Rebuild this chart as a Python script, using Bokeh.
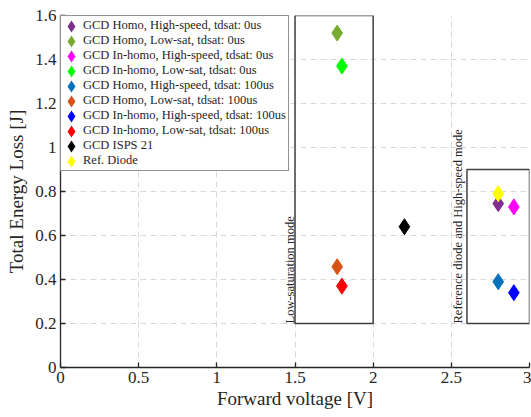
import math
from bokeh.plotting import figure
from bokeh.models import FixedTicker, CustomJSTickFormatter, ColumnDataSource, Legend, LegendItem
from bokeh.core.properties import value
from bokeh.embed import file_html
from bokeh.resources import INLINE

# ---- data ----
series_names = [
    "GCD Homo, High-speed, tdsat: 0us",
    "GCD Homo, Low-sat, tdsat: 0us",
    "GCD In-homo, High-speed, tdsat: 0us",
    "GCD In-homo, Low-sat, tdsat: 0us",
    "GCD Homo, High-speed, tdsat: 100us",
    "GCD Homo, Low-sat, tdsat: 100us",
    "GCD In-homo, High-speed, tdsat: 100us",
    "GCD In-homo, Low-sat, tdsat: 100us",
    "GCD ISPS 21",
    "Ref. Diode",
]
forward_voltage = [2.80, 1.77, 2.90, 1.80, 2.80, 1.77, 2.90, 1.80, 2.20, 2.80]
energy_loss = [0.745, 1.52, 0.73, 1.37, 0.39, 0.458, 0.34, 0.37, 0.64, 0.79]
series_colors = ["#7E2F8E", "#77AC30", "#FF00FF", "#00FF00", "#0072BD",
                 "#D95319", "#0000FF", "#FF0000", "#000000", "#FFFF00"]

region_left = [1.5, 2.6]
region_right = [2.0, 3.0]
region_bottom = [0.2, 0.2]
region_top = [1.6, 0.9]
region_labels = ["Low-saturation mode", "Reference diode and High-speed mode"]

x_ticks = [0, 0.5, 1, 1.5, 2, 2.5, 3]
x_tick_labels = ["0", "0.5", "1", "1.5", "2", "2.5", "3"]
y_ticks = [0, 0.2, 0.4, 0.6, 0.8, 1.0, 1.2, 1.4, 1.6]
y_tick_labels = ["0", "0.2", "0.4", "0.6", "0.8", "1", "1.2", "1.4", "1.6"]

FONT = "Liberation Serif"
TXT = "#262626"

p = figure(width=531, height=417, x_range=(0, 3), y_range=(0, 1.6),
           output_backend="svg", toolbar_location=None,
           min_border_left=60, min_border_right=2, min_border_top=15, min_border_bottom=50)
p.outline_line_color = None
p.background_fill_color = "white"
p.border_fill_color = "white"

fmt_code = """
const i = tvals.findIndex(t => Math.abs(t - tick) < 1e-9);
return i >= 0 ? tlabs[i] : String(tick);
"""
p.xaxis.ticker = FixedTicker(ticks=x_ticks)
p.yaxis.ticker = FixedTicker(ticks=y_ticks)
p.xaxis.formatter = CustomJSTickFormatter(args=dict(tvals=x_ticks, tlabs=x_tick_labels), code=fmt_code)
p.yaxis.formatter = CustomJSTickFormatter(args=dict(tvals=y_ticks, tlabs=y_tick_labels), code=fmt_code)

p.xaxis.axis_label = "Forward voltage [V]"
p.yaxis.axis_label = "Total Energy Loss [J]"
for ax in (p.xaxis, p.yaxis):
    ax.axis_label_text_font = FONT
    ax.axis_label_text_font_size = "19px"
    ax.axis_label_text_font_style = "normal"
    ax.axis_label_text_color = TXT
    ax.major_label_text_font = FONT
    ax.major_label_text_font_size = "17px"
    ax.major_label_text_color = TXT
    ax.axis_line_color = TXT
    ax.axis_line_width = 1.3
    ax.major_tick_line_color = TXT
    ax.major_tick_line_width = 1.3
    ax.major_tick_in = 5
    ax.major_tick_out = 0
    ax.minor_tick_line_color = None
    ax.major_label_standoff = 4
p.xaxis.axis_label_standoff = 2
p.yaxis.axis_label_standoff = 5

for g in (p.xgrid, p.ygrid):
    g.grid_line_color = "#d9d9d9"
    g.grid_line_dash = "6 4"
    g.grid_line_width = 1

# region boxes
p.quad(left=region_left, right=region_right, bottom=region_bottom, top=region_top,
       fill_color=None, line_color="#404040", line_width=1.5)

# region labels
for i, off in zip(range(len(region_labels)), (-5, -9)):
    p.text(x=[region_left[i]], y=[region_bottom[i]], text=[region_labels[i]], angle=math.pi / 2,
           text_align="left", text_baseline="alphabetic", x_offset=off,
           text_font=value(FONT), text_font_size="12.5px", text_color=TXT)

# data points (+ hidden legend proxies with a heavier outline for the legend glyph)
items = []
for name, xv, yv, col in zip(series_names, forward_voltage, energy_loss, series_colors):
    src = ColumnDataSource(dict(x=[xv], y=[yv]))
    p.scatter("x", "y", source=src, marker="diamond", size=16,
              fill_color=col, line_color=col, line_width=1)
    proxy = p.scatter("x", "y", source=src, marker="diamond", size=16,
                      fill_color=col, line_color=col, line_width=3.5,
                      line_join="miter", visible=False)
    items.append(LegendItem(label=name, renderers=[proxy]))

lg = Legend(items=items, location="top_left")
lg.margin = 0
lg.padding = 2
lg.spacing = 0
lg.glyph_height = 14
lg.glyph_width = 16
lg.label_height = 14
lg.label_standoff = 4
lg.label_text_font = FONT
lg.label_text_font_size = "12.5px"
lg.label_text_color = TXT
lg.border_line_color = "#262626"
lg.border_line_width = 1
lg.background_fill_color = "white"
lg.background_fill_alpha = 1.0
lg.inactive_fill_alpha = 0.0
p.add_layout(lg, "center")

open("out.html", "w").write(file_html(p, INLINE))
